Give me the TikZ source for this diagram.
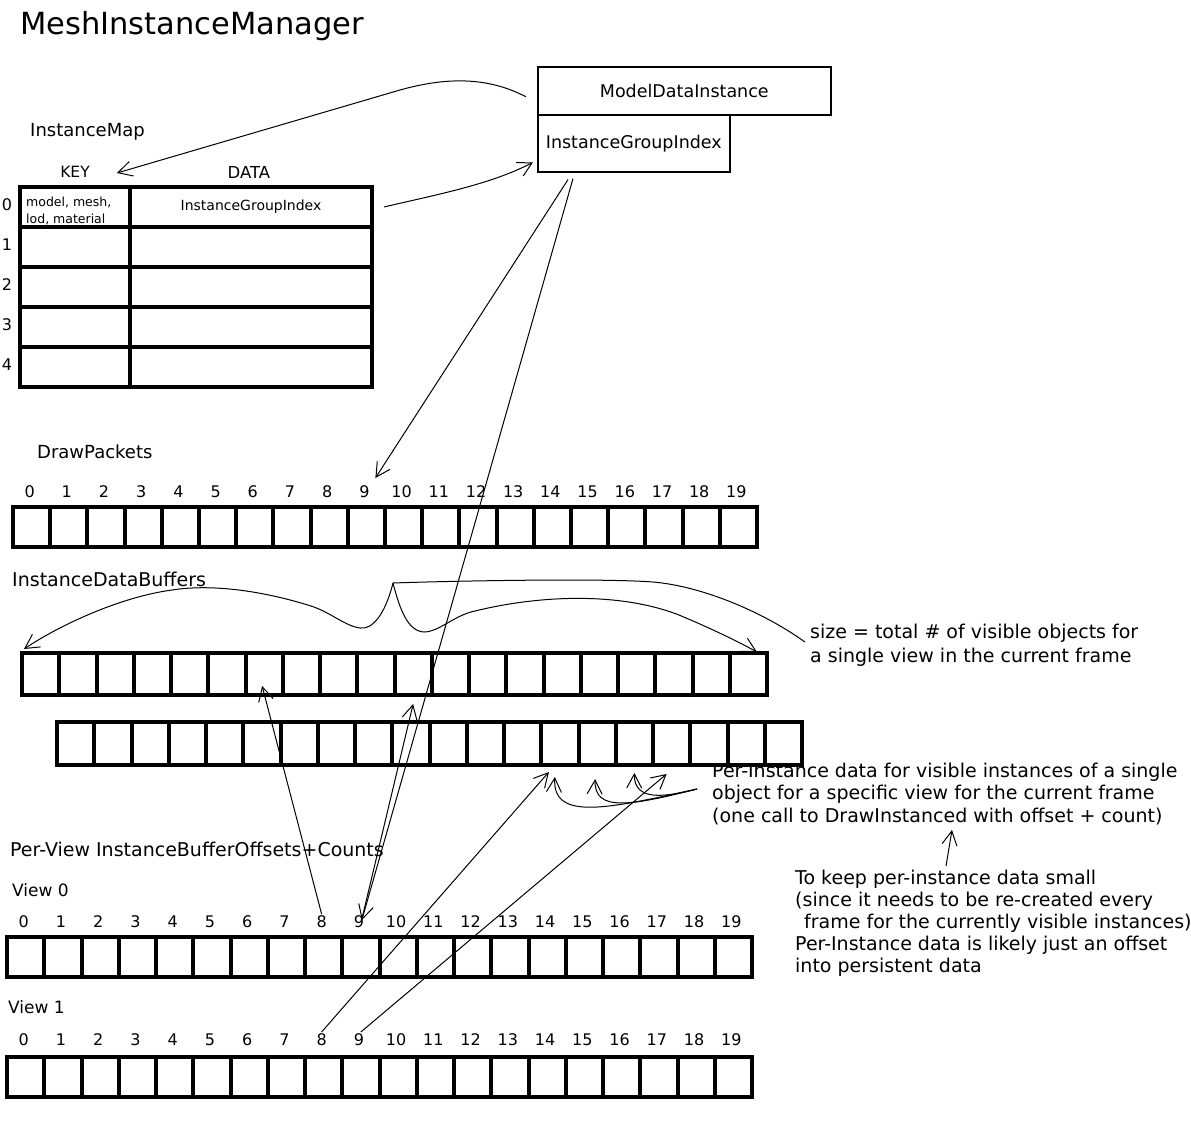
\documentclass[tikz,border=0pt]{standalone}
\usepackage{fontspec}
\setmainfont{DejaVu Sans}
\usetikzlibrary{arrows.meta}
\begin{document}
\begin{tikzpicture}[x=1pt,y=-1pt,
  cell/.style={draw, line width=4pt, minimum width=37.25pt, minimum height=40pt, inner sep=0pt, anchor=north west},
  tcell/.style={draw, line width=4pt, minimum height=40pt, inner sep=0pt, anchor=north west},
  box/.style={draw, line width=1.6pt, inner sep=0pt, anchor=north west, font=\fontsize{17.5}{17.5}\selectfont},
  num/.style={font=\fontsize{16}{16}\selectfont, inner sep=0pt},
  lbl/.style={font=\fontsize{18}{18}\selectfont, anchor=base west, inner sep=0pt},
  note/.style={align=left, anchor=base west, inner sep=0pt},
  arr/.style={line width=1pt, -{Straight Barb[length=14pt,width=15pt]}},
  thin/.style={line width=1pt}]
\useasboundingbox[fill=white] (0,0) rectangle (1191,1135);

% title and labels
\node[lbl, font=\fontsize{30.5}{30.5}\selectfont] (title) at (20,34) {MeshInstanceManager};
\node[lbl] (imap) at (30,136) {InstanceMap};
\node[inner sep=0pt, font=\fontsize{15.5}{15.5}\selectfont] (key) at (75,172) {KEY};
\node[inner sep=0pt, font=\fontsize{16.5}{16.5}\selectfont] (data) at (249,172) {DATA};
\node[lbl] (dplbl) at (37,458) {DrawPackets};
\node[lbl, font=\fontsize{19}{19}\selectfont] (idblbl) at (12,586) {InstanceDataBuffers};
\node[lbl, font=\fontsize{19}{19}\selectfont] (pvlbl) at (10,856) {Per-View InstanceBufferOffsets+Counts};
\node[lbl, font=\fontsize{17}{17}\selectfont] (v0lbl) at (12,896) {View 0};
\node[lbl, font=\fontsize{17}{17}\selectfont] (v1lbl) at (8,1013) {View 1};

% instance map table
\foreach \r in {0,...,4}{
  \node[tcell, minimum width=110pt] (key\r) at (18,{185+40*\r}) {};
  \node[tcell, minimum width=242pt] (dat\r) at (128,{185+40*\r}) {};
  \node[inner sep=0pt, font=\fontsize{16}{16}\selectfont] (rn\r) at (7,{205+40*\r}) {\r};
}
\node[inner sep=0pt, align=left, anchor=west, font=\fontsize{12.5}{16.5}\selectfont] (keytxt) at (26,211) {model, mesh,\\lod, material};
\node[inner sep=0pt, font=\fontsize{14}{14}\selectfont] (dattxt) at (dat0.center) {InstanceGroupIndex};

% model data instance
\node[box, minimum width=293pt, minimum height=48pt] (mdi) at (537,66) {ModelDataInstance};
\node[box, minimum width=192pt, minimum height=57pt] (igi) at (537,114) {InstanceGroupIndex};

% cell rows
\foreach \i in {0,...,19}{
  \node[cell] (dp\i) at ({11+37.2*\i},505) {};
  \node[num] (dpn\i) at ({29.6+37.2*\i},492) {\i};
  \node[cell, minimum height=42pt] (b1c\i) at ({20+37.25*\i},651) {};
  \node[cell, minimum height=43pt] (b2c\i) at ({55+37.25*\i},720) {};
  \node[cell] (v0c\i) at ({5+37.25*\i},935) {};
  \node[num] (v0n\i) at ({23.6+37.25*\i},922) {\i};
  \node[cell] (v1c\i) at ({5+37.25*\i},1055) {};
  \node[num] (v1n\i) at ({23.6+37.25*\i},1040) {\i};
}

% notes (base west = baseline of the last line)
\node[note, font=\fontsize{19}{24}\selectfont] (sizenote) at (810,662) {size = total \# of visible objects for\\a single view in the current frame};
\node[note, font=\fontsize{19}{22.5}\selectfont] (pinote) at (712,822) {Per-Instance data for visible instances of a single\\object for a specific view for the current frame\\(one call to DrawInstanced with offset + count)};
\node[note, font=\fontsize{19}{22}\selectfont] (keep) at (795,972) {To keep per-instance data small\\(since it needs to be re-created every\\\hspace*{9pt}frame for the currently visible instances)\\Per-Instance data is likely just an offset\\into persistent data};

% connectors top
\draw[arr] ([shift={(-11pt,-6pt)}]mdi.west) .. controls (490,78) and (450,76) .. (400,90) -- ([shift={(27pt,-1pt)}]key.east);
\draw[arr] ([xshift=10pt]dat0.east) .. controls (430,196) and (490,185) .. ([shift={(-4pt,-19pt)}]igi.west);
\draw[arr] ([shift={(31pt,-7pt)}]igi.south west) -- ([shift={(11pt,14pt)}]dpn9.center);
\draw[arr] ([shift={(36pt,-6pt)}]igi.south west) -- ([shift={(3pt,2pt)}]v0n9.center);

% per-view connectors
\draw[arr] ([shift={(3pt,3pt)}]v0n9.center) -- ([yshift=-7pt]b1c10.south);
\draw[arr] ([yshift=8pt]v0n8.center) -- ([shift={(-2pt,11pt)}]b1c6.south);
\draw[arr] ([yshift=8pt]v1n8.center) -- ([shift={(-11pt,-5pt)}]b2c13.south);
\draw[arr] ([shift={(2pt,8pt)}]v1n9.center) -- ([shift={(-5pt,-7pt)}]b2c16.south);

% per-instance curved arrows
\coordinate (pio) at (697,789);
\draw[arr] (pio) .. controls (610,808) and (552,822) .. ([shift={(-5pt,-10pt)}]b2c13.south);
\draw[arr] (pio) .. controls (630,806) and (594,812) .. ([shift={(-2pt,-12pt)}]b2c14.south);
\draw[arr] (pio) .. controls (665,797) and (634,802) .. ([yshift=-6pt]b2c15.south);

% keep -> per-instance
\coordinate (kptip) at (952,830);
\draw[arr] ([shift={(151pt,106pt)}]keep.base west) -- (kptip);

% brace over instance data buffers
\coordinate (apex) at (393,583);
\coordinate (ltip) at (24,649);
\coordinate (rtip) at (757,652);
\coordinate (send) at (805,642);
\draw[arr] (apex) .. controls (385,615) and (372,630) .. (360,628) .. controls (345,626) and (330,612) .. (311,606) .. controls (260,590) and (210,584) .. (172,590) .. controls (120,597) and (60,625) .. (ltip);
\draw[arr] (apex) .. controls (400,610) and (408,632) .. (425,632) .. controls (440,631) and (455,615) .. (475,611) .. controls (540,595) and (620,592) .. (679,615) .. controls (710,628) and (735,640) .. (rtip);
\draw[thin] (apex) .. controls (450,581) and (600,578) .. (653,582) .. controls (700,586) and (760,610) .. (send);
\end{tikzpicture}
\end{document}
